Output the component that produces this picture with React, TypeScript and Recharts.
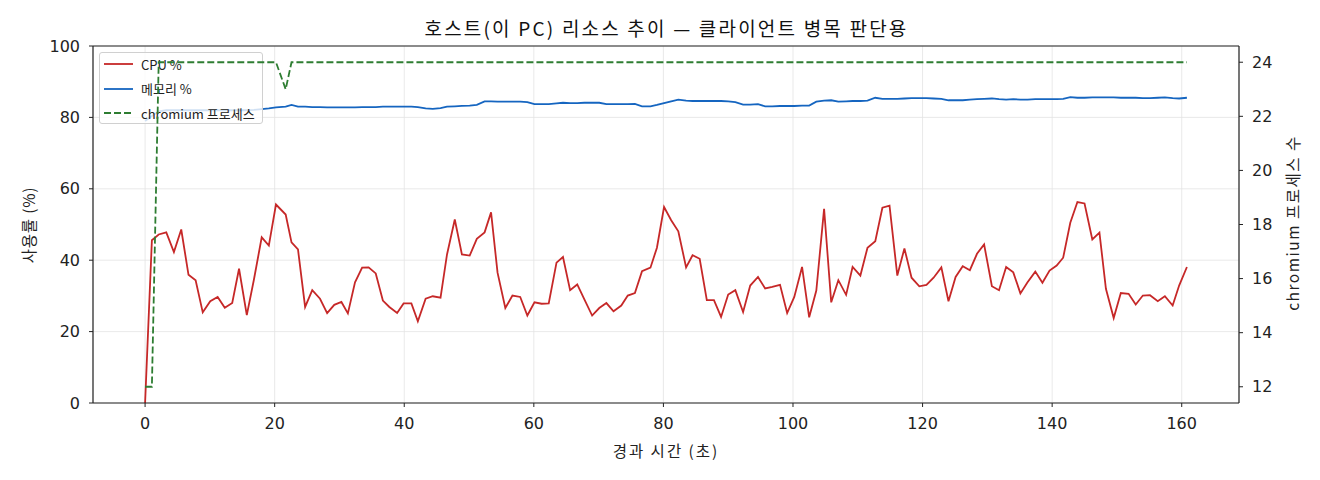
import React from 'react';
import { LineChart, Line, XAxis, YAxis, CartesianGrid, ReferenceLine } from 'recharts';

// elapsed seconds of each sample
const times = [
  0, 1.05, 2.1, 3.27, 4.45, 5.58, 6.7, 7.8, 8.9, 10.06, 11.2, 12.3, 13.45, 14.5, 15.7, 16.8, 18, 19.1, 20.2, 21.7,
  22.6, 23.6, 24.7, 25.8, 27, 28.1, 29.2, 30.3, 31.3, 32.4, 33.5, 34.5, 35.6, 36.7, 37.7, 38.9, 39.9, 41.1, 42.1, 43.3,
  44.4, 45.6, 46.6, 47.8, 48.9, 50.1, 51.2, 52.4, 53.4, 54.4, 55.6, 56.7, 57.9, 59, 60.1, 61.2, 62.3, 63.5, 64.5, 65.6,
  66.7, 67.8, 69, 70.1, 71.2, 72.3, 73.5, 74.5, 75.6, 76.7, 78, 79, 80.1, 81.2, 82.3, 83.5, 84.5, 85.6, 86.7, 87.8,
  88.9, 90, 91.1, 92.3, 93.4, 94.6, 95.7, 96.8, 98, 99.1, 100.2, 101.4, 102.5, 103.6, 104.8, 105.9, 107, 108.2, 109.2, 110.4,
  111.5, 112.7, 113.8, 114.9, 116.1, 117.2, 118.3, 119.5, 120.6, 121.7, 122.9, 124, 125.1, 126.2, 127.3, 128.4, 129.5, 130.7, 131.8, 132.9,
  134, 135.1, 136.2, 137.4, 138.5, 139.6, 140.7, 141.7, 142.8, 143.9, 145, 146.2, 147.3, 148.3, 149.5, 150.6, 151.8, 152.9, 154, 155.1,
  156.3, 157.4, 158.6, 159.6, 160.8,
];

const cpuPct = [
  0, 45.6, 47.2, 47.8, 42.3, 48.6, 35.9, 34.4, 25.4, 28.5, 29.7, 26.7, 28, 37.6, 24.6, 34.6, 46.4, 44.1, 55.6, 52.8,
  45, 43, 26.9, 31.6, 29.2, 25.2, 27.5, 28.3, 25.1, 33.8, 37.9, 38, 36.3, 28.7, 26.9, 25.2, 27.9, 27.9, 22.9, 29.2,
  29.9, 29.5, 41.6, 51.4, 41.6, 41.3, 46, 47.8, 53.4, 36.5, 26.6, 30.1, 29.7, 24.5, 28.2, 27.8, 27.9, 39.3, 40.9, 31.6,
  33.2, 29, 24.5, 26.6, 28, 25.7, 27.3, 30.1, 30.8, 36.9, 37.9, 43.5, 54.9, 51.2, 48.1, 38, 41.4, 40.4, 28.8, 28.8,
  24.1, 30.4, 31.6, 25.5, 32.9, 35.3, 32.1, 32.5, 33.1, 25.2, 29.7, 38.1, 24, 31.5, 54.4, 28.2, 34.4, 30.3, 38.1, 35.7,
  43.5, 45.3, 54.7, 55.3, 35.7, 43.3, 35.1, 32.7, 33.1, 35.1, 38, 28.5, 35.3, 38.3, 37.2, 41.8, 44.4, 32.7, 31.6, 38.1,
  36.6, 30.7, 33.8, 36.8, 33.7, 37.1, 38.5, 40.7, 50.5, 56.3, 55.9, 45.8, 47.7, 32, 23.8, 30.8, 30.6, 27.6, 30.1, 30.2,
  28.5, 29.9, 27.3, 32.9, 38.1,
];

const memPct = [
  79, 80.4, 81.7, 82, 82, 82, 82, 82, 82, 82, 82, 82, 82, 82, 82, 82.1, 82.3, 82.5, 82.8, 83,
  83.5, 83, 83, 82.9, 82.9, 82.8, 82.8, 82.8, 82.8, 82.8, 82.9, 82.9, 82.9, 83, 83, 83, 83, 83, 82.9, 82.5,
  82.4, 82.6, 83, 83.1, 83.2, 83.3, 83.5, 84.5, 84.5, 84.4, 84.4, 84.4, 84.4, 84.3, 83.7, 83.7, 83.7, 83.9, 84.1, 84,
  84, 84.1, 84.1, 84.1, 83.7, 83.7, 83.7, 83.7, 83.8, 83.1, 83.1, 83.5, 84, 84.5, 85, 84.7, 84.6, 84.6, 84.6, 84.6,
  84.6, 84.5, 84.3, 83.6, 83.6, 83.7, 83.1, 83.1, 83.2, 83.2, 83.2, 83.3, 83.3, 84.4, 84.7, 84.8, 84.4, 84.5, 84.6, 84.6,
  84.7, 85.5, 85.2, 85.2, 85.2, 85.3, 85.4, 85.4, 85.4, 85.3, 85.2, 84.8, 84.8, 84.8, 85, 85.1, 85.2, 85.3, 85.1, 85,
  85.1, 85, 85, 85.1, 85.1, 85.1, 85.1, 85.2, 85.7, 85.5, 85.5, 85.6, 85.6, 85.6, 85.6, 85.5, 85.5, 85.5, 85.4, 85.4,
  85.5, 85.6, 85.4, 85.3, 85.5,
];

const chromiumProcs = [
  12, 12, 24, 24, 24, 24, 24, 24, 24, 24, 24, 24, 24, 24, 24, 24, 24, 24, 24, 23,
  24, 24, 24, 24, 24, 24, 24, 24, 24, 24, 24, 24, 24, 24, 24, 24, 24, 24, 24, 24,
  24, 24, 24, 24, 24, 24, 24, 24, 24, 24, 24, 24, 24, 24, 24, 24, 24, 24, 24, 24,
  24, 24, 24, 24, 24, 24, 24, 24, 24, 24, 24, 24, 24, 24, 24, 24, 24, 24, 24, 24,
  24, 24, 24, 24, 24, 24, 24, 24, 24, 24, 24, 24, 24, 24, 24, 24, 24, 24, 24, 24,
  24, 24, 24, 24, 24, 24, 24, 24, 24, 24, 24, 24, 24, 24, 24, 24, 24, 24, 24, 24,
  24, 24, 24, 24, 24, 24, 24, 24, 24, 24, 24, 24, 24, 24, 24, 24, 24, 24, 24, 24,
  24, 24, 24, 24, 24,
];

const xTicks = [0, 20, 40, 60, 80, 100, 120, 140, 160];
const pctTicks = [0, 20, 40, 60, 80, 100];
const procTicks = [12, 14, 16, 18, 20, 22, 24];

const RED = '#c62828';
const BLUE = '#1565c0';
const GREEN = '#2e7d32';
const DASH = '7 3';
const LW = 1.8;
const FONT = '"Noto Sans CJK KR", "Noto Sans", sans-serif';
const NUM_FONT = '"DejaVu Sans", sans-serif';
const W = 1320;
const H = 480;
const MARGIN = { top: 46, right: 21, left: 23, bottom: 27 };

const rows = times.map((t, i) => ({
  t,
  cpu: cpuPct[i],
  mem: memPct[i],
  proc: chromiumProcs[i],
}));

const tickStyle = { fontSize: 16, fill: '#222', fontFamily: NUM_FONT };
const axisLine = { stroke: '#222', strokeWidth: 1.2 };

const legendItems = [
  { name: 'CPU %', color: RED, dashed: false },
  { name: '메모리 %', color: BLUE, dashed: false },
  { name: 'chromium 프로세스', color: GREEN, dashed: true },
];

const App: React.FC = () => {
  return (
    <div style={{ position: 'absolute', left: 0, top: 0, width: W, height: H, background: '#fff', fontFamily: FONT }}>
      <div
        style={{
          position: 'absolute',
          left: 0,
          width: 1333,
          top: 14,
          textAlign: 'center',
          fontSize: 19,
          letterSpacing: 2.2,
          color: '#111',
          whiteSpace: 'nowrap',
        }}
      >
        호스트(이 PC) 리소스 추이 — 클라이언트 병목 판단용
      </div>

      {/* left axes: grid, CPU and memory */}
      <div style={{ position: 'absolute', left: 0, top: 0 }}>
        <LineChart width={W} height={H} data={rows} margin={MARGIN}>
          <CartesianGrid yAxisId="left" stroke="#e3e3e3" strokeWidth={0.8} />
          <XAxis
            dataKey="t"
            type="number"
            domain={[-8.04, 168.84]}
            ticks={xTicks}
            height={50}
            tickSize={4}
            tickMargin={11}
            tick={tickStyle}
            stroke="#222"
            axisLine={axisLine}
            label={() => (
              <text x={666} y={457} textAnchor="middle" fontSize={15.5} letterSpacing={2} fill="#222" fontFamily={FONT}>
                경과 시간 (초)
              </text>
            )}
          />
          <YAxis
            yAxisId="left"
            domain={[0, 100]}
            ticks={pctTicks}
            width={70}
            tickSize={4}
            tickMargin={9}
            tick={tickStyle}
            stroke="#222"
            axisLine={axisLine}
            label={() => (
              <text
                x={28}
                y={225}
                transform="rotate(-90 28 225)"
                textAnchor="middle"
                dominantBaseline="central"
                fontSize={15.5}
                letterSpacing={0.8}
                fill="#222"
                fontFamily={FONT}
              >
                사용률 (%)
              </text>
            )}
          />
          <YAxis yAxisId="right" orientation="right" domain={[11.4, 24.6]} width={60} tick={false} tickLine={false} axisLine={false} />
          <ReferenceLine yAxisId="left" y={100} stroke="#222" strokeWidth={1.2} />
          <Line yAxisId="left" dataKey="cpu" stroke={RED} strokeWidth={LW} dot={false} type="linear" isAnimationActive={false} />
          <Line yAxisId="left" dataKey="mem" stroke={BLUE} strokeWidth={LW} dot={false} type="linear" isAnimationActive={false} />
        </LineChart>
      </div>

      {/* legend belongs to the left axes, so the twin-axis line is drawn over it */}
      <div
        style={{
          position: 'absolute',
          left: 99,
          top: 52,
          width: 164,
          height: 72,
          boxSizing: 'border-box',
          background: 'rgba(255,255,255,0.8)',
          border: '1px solid #d0d0d0',
          borderRadius: 3,
        }}
      >
        {legendItems.map((item, i) => (
          <div
            key={item.name}
            style={{ position: 'absolute', left: 4, top: 1 + i * 24.5, height: 20, display: 'flex', alignItems: 'center' }}
          >
            <svg width={30} height={6} style={{ marginRight: 7 }}>
              <line
                x1={0}
                y1={3}
                x2={29}
                y2={3}
                stroke={item.color}
                strokeWidth={LW}
                strokeDasharray={item.dashed ? DASH : undefined}
              />
            </svg>
            <span style={{ fontSize: 13, color: '#222', whiteSpace: 'nowrap' }}>{item.name}</span>
          </div>
        ))}
      </div>

      {/* twin axis: chromium process count */}
      <div style={{ position: 'absolute', left: 0, top: 0 }}>
        <LineChart width={W} height={H} data={rows} margin={MARGIN}>
          <XAxis
            dataKey="t"
            type="number"
            domain={[-8.04, 168.84]}
            ticks={xTicks}
            height={50}
            tick={false}
            tickLine={false}
            axisLine={false}
          />
          <YAxis yAxisId="left" domain={[0, 100]} width={70} tick={false} tickLine={false} axisLine={false} />
          <YAxis
            yAxisId="right"
            orientation="right"
            domain={[11.4, 24.6]}
            ticks={procTicks}
            width={60}
            tickSize={4}
            tickMargin={9}
            tick={tickStyle}
            stroke="#222"
            axisLine={axisLine}
            label={() => (
              <text
                x={1292}
                y={223}
                transform="rotate(-90 1292 223)"
                textAnchor="middle"
                dominantBaseline="central"
                fontSize={15.5}
                letterSpacing={1.5}
                fill="#222"
                fontFamily={FONT}
              >
                chromium 프로세스 수
              </text>
            )}
          />
          <Line
            yAxisId="right"
            dataKey="proc"
            stroke={GREEN}
            strokeWidth={LW}
            strokeDasharray={DASH}
            dot={false}
            type="linear"
            isAnimationActive={false}
          />
        </LineChart>
      </div>
    </div>
  );
};

export default App;
